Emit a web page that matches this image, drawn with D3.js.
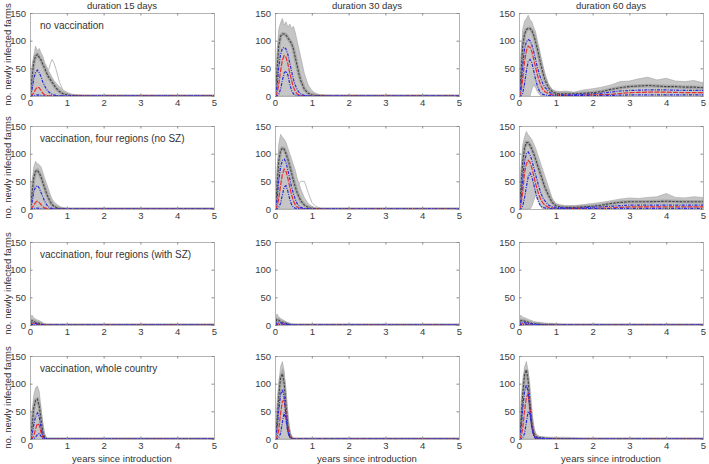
<!DOCTYPE html>
<html>
<head>
<meta charset="utf-8">
<script src="https://cdn.jsdelivr.net/npm/d3@7"></script>
<style>
body { margin: 0; background: #fff; }
svg { display: block; font-family: "Liberation Sans", Arial, sans-serif; }
</style>
</head>
<body>
<svg id="chart"></svg>
<script>
// time grid, years since introduction
const years = [0,0.05,0.1,0.15,0.2,0.25,0.3,0.35,0.4,0.45,0.5,0.55,0.6,0.65,0.7,
  0.8,0.9,1.0,1.1,1.25,1.5,1.75,2,2.25,2.5,2.75,3,3.25,3.5,3.75,4,4.25,4.5,4.75,5];

const durations = ['duration 15 days', 'duration 30 days', 'duration 60 days'];
const scenarios = ['no vaccination', 'vaccination, four regions (no SZ)',
  'vaccination, four regions (with SZ)', 'vaccination, whole country'];
const xTicks = [0, 1, 2, 3, 4, 5];
const yTicks = [0, 50, 100, 150];

// panels ordered row by row: scenario x duration
// upper edge of the grey band of simulation runs
const bandHi = [
  [0,45,72,90,82,86,78,72,60,54,46,40,34,28,24, 17,11,7,4,2,0.5,0,0,0,0,0,0,0,0,0,0,0,0,0,0],
  [0,60,120,132,140,128,134,124,130,122,126,115,100,85,70, 40,20,10,5,2,0,0,0,0,0,0,0,0,0,0,0,0,0,0,0],
  [0,60,120,135,140,146,138,134,124,116,100,86,70,56,42, 22,12,9,8,9,7,11,13,16,20,26,27,31,34,29,32,27,26,28,24],
  [0,40,75,86,82,80,76,66,55,46,36,26,18,13,10, 5,2,0.5,0,0,0,0,0,0,0,0,0,0,0,0,0,0,0,0,0],
  [0,55,115,135,130,126,120,110,100,90,80,70,56,46,36, 20,10,5,2,0.5,0,0,0,0,0,0,0,0,0,0,0,0,0,0,0],
  [0,60,115,130,140,134,130,125,118,110,100,90,80,70,60, 40,20,10,8,6,6,8,10,12,15,18,20,19,21,22,28,21,20,22,21],
  [0,18,13,11,9,8,6,4,2,1,0.5,0,0,0,0, 0,0,0,0,0,0,0,0,0,0,0,0,0,0,0,0,0,0,0,0],
  [0,20,15,12,10,8,6,4,3,2,1,0.5,0,0,0, 0,0,0,0,0,0,0,0,0,0,0,0,0,0,0,0,0,0,0,0],
  [0,18,14,13,12,10,9,8,6,6,5,5,4,4,3, 3,3,2,1.5,1,0.5,0,0,0,0,0,0,0,0,0,0,0,0,0,0],
  [0,40,78,92,96,86,56,26,8,2,0,0,0,0,0, 0,0,0,0,0,0,0,0,0,0,0,0,0,0,0,0,0,0,0,0],
  [0,40,95,130,140,122,80,40,15,5,1,0,0,0,0, 0,0,0,0,0,0,0,0,0,0,0,0,0,0,0,0,0,0,0,0],
  [0,40,95,130,140,122,82,46,22,11,7,5,4,3.5,3, 3,2.5,2,2,1.5,1,0,0,0,0,0,0,0,0,0,0,0,0,0,0]
];

// lower edge of the band where it lifts off zero
const bandLo = {
  2: [0,0,0,0,0,0,0,12,20,15,8,3,0,0,0, 0,0,0,0,0,0,0,0,0,0,0,0,0,0,0,0,0,0,0,0],
  5: [0,0,0,0,0,0,0,5,15,25,20,10,3,0,0, 0,0,0,0,0,0,0,0,0,0,0,0,0,0,0,0,0,0,0,0]
};

// single runs lying outside the band
const outlierRuns = {
  0: [0,10,20,25,25,22,18,15,20,30,45,58,66,60,50, 25,10,3,0,0,0,0,0,0,0,0,0,0,0,0,0,0,0,0,0],
  4: [0,10,30,40,45,42,40,35,30,28,30,35,40,45,50, 50,30,12,5,1,0,0,0,0,0,0,0,0,0,0,0,0,0,0,0]
};

// upper percentile (dark dashed)
const upper = [
  [0,30,60,72,75,70,65,57,50,42,35,30,25,20,15, 8,4,2,1,0.5,0,0,0,0,0,0,0,0,0,0,0,0,0,0,0],
  [0,40,90,108,112,112,110,105,100,95,85,70,55,40,28, 12,5,2,1,0.5,0,0,0,0,0,0,0,0,0,0,0,0,0,0,0],
  [0,35,90,112,120,122,122,118,110,98,85,70,55,42,30, 15,8,5,4,4,4,5,6,8,12,15,17,18,19,18,17,17,16,16,15],
  [0,25,55,68,70,65,58,48,38,28,20,13,8,5,3, 1,0.5,0,0,0,0,0,0,0,0,0,0,0,0,0,0,0,0,0,0],
  [0,35,85,105,110,108,100,90,78,65,52,40,30,22,15, 7,3,1,0.5,0,0,0,0,0,0,0,0,0,0,0,0,0,0,0,0],
  [0,35,85,110,120,120,115,108,100,90,80,70,60,50,40, 25,12,6,4,3,3,4,5,7,10,12,13,13,13,13.5,14,13.5,13,13,13],
  [0,8,7,5,4,3,2,1,0.5,0,0,0,0,0,0, 0,0,0,0,0,0,0,0,0,0,0,0,0,0,0,0,0,0,0,0],
  [0,10,9,6,5,4,3,2,1,0.5,0,0,0,0,0, 0,0,0,0,0,0,0,0,0,0,0,0,0,0,0,0,0,0,0,0],
  [0,8,8,7,6,5,4,3,2.5,2,2,1.5,1.5,1,1, 0.5,0.5,0.5,0,0,0,0,0,0,0,0,0,0,0,0,0,0,0,0,0],
  [0,20,55,70,72,60,35,12,3,0.5,0,0,0,0,0, 0,0,0,0,0,0,0,0,0,0,0,0,0,0,0,0,0,0,0,0],
  [0,30,75,110,118,100,60,25,8,2,0.5,0,0,0,0, 0,0,0,0,0,0,0,0,0,0,0,0,0,0,0,0,0,0,0,0],
  [0,30,80,115,125,105,65,30,12,5,3,2.5,2,2,1.5, 1,1,1,1,1,0.5,0,0,0,0,0,0,0,0,0,0,0,0,0,0]
];

// upper quartile (blue)
const q75 = [
  [0,10,30,42,47,42,35,25,18,12,8,5,3,2,1, 0.5,0,0,0,0,0,0,0,0,0,0,0,0,0,0,0,0,0,0,0],
  [0,15,50,75,86,88,85,75,60,45,30,20,12,7,4, 1,0.5,0,0,0,0,0,0,0,0,0,0,0,0,0,0,0,0,0,0],
  [0,15,55,85,98,102,100,92,80,66,52,40,30,22,16, 8,4,3,2.5,2,2,3,4,5,7,9,10,10.5,11,11,11,10.5,10,10,10],
  [0,10,30,40,42,38,30,22,14,8,4,2,1,0.5,0, 0,0,0,0,0,0,0,0,0,0,0,0,0,0,0,0,0,0,0,0],
  [0,15,50,75,88,90,84,70,55,40,28,18,10,6,3, 1,0.5,0,0,0,0,0,0,0,0,0,0,0,0,0,0,0,0,0,0],
  [0,15,55,85,100,103,98,88,75,62,50,38,28,20,15, 7,4,3,2.5,2,2,2.5,3,4,5,6,7,7,7,7,7,7,7,7,7],
  [0,5,4,3,2,1.5,1,0.5,0,0,0,0,0,0,0, 0,0,0,0,0,0,0,0,0,0,0,0,0,0,0,0,0,0,0,0],
  [0,5,5,4,3,2,1.5,1,0.5,0,0,0,0,0,0, 0,0,0,0,0,0,0,0,0,0,0,0,0,0,0,0,0,0,0,0],
  [0,5,5,4,4,3,2,2,1.5,1,1,0.5,0.5,0,0, 0,0,0,0,0,0,0,0,0,0,0,0,0,0,0,0,0,0,0,0],
  [0,5,25,40,47,40,20,6,1,0,0,0,0,0,0, 0,0,0,0,0,0,0,0,0,0,0,0,0,0,0,0,0,0,0,0],
  [0,15,50,80,90,75,40,15,4,1,0,0,0,0,0, 0,0,0,0,0,0,0,0,0,0,0,0,0,0,0,0,0,0,0,0],
  [0,15,55,85,98,85,50,22,8,3,2,1.5,1,1,0.5, 0.5,0,0,0,0,0,0,0,0,0,0,0,0,0,0,0,0,0,0,0]
];

// median (red)
const median = [
  [0,2,5,12,16,15,10,5,2,1,0.5,0,0,0,0, 0,0,0,0,0,0,0,0,0,0,0,0,0,0,0,0,0,0,0,0],
  [0,4,20,45,65,73,70,58,42,28,16,9,4,2,1, 0.5,0,0,0,0,0,0,0,0,0,0,0,0,0,0,0,0,0,0,0],
  [0,5,30,62,82,90,88,80,66,52,38,27,18,12,8, 4,2,1.5,1,1,1,1.5,2,2.5,3,4.5,6,6.5,7,7,7,6.5,6,6,6],
  [0,2,6,12,14,12,8,4,2,1,0,0,0,0,0, 0,0,0,0,0,0,0,0,0,0,0,0,0,0,0,0,0,0,0,0],
  [0,4,18,42,62,72,68,55,40,26,15,8,4,2,1, 0.5,0,0,0,0,0,0,0,0,0,0,0,0,0,0,0,0,0,0,0],
  [0,5,30,65,82,88,84,74,60,46,34,24,16,11,7, 3,2,1,1,1,1,1,1,1.5,2,3,4,4,4,4,4,4,4,4,4],
  [0,2,2,1.5,1,0.5,0,0,0,0,0,0,0,0,0, 0,0,0,0,0,0,0,0,0,0,0,0,0,0,0,0,0,0,0,0],
  [0,2,2,2,1.5,1,0.5,0,0,0,0,0,0,0,0, 0,0,0,0,0,0,0,0,0,0,0,0,0,0,0,0,0,0,0,0],
  [0,2,2,2,1.5,1,1,0.5,0,0,0,0,0,0,0, 0,0,0,0,0,0,0,0,0,0,0,0,0,0,0,0,0,0,0,0],
  [0,1,5,18,28,25,12,3,0.5,0,0,0,0,0,0, 0,0,0,0,0,0,0,0,0,0,0,0,0,0,0,0,0,0,0,0],
  [0,3,15,45,68,70,45,20,5,1,0,0,0,0,0, 0,0,0,0,0,0,0,0,0,0,0,0,0,0,0,0,0,0,0,0],
  [0,3,18,50,75,82,55,25,8,2,1,0.5,0,0,0, 0,0,0,0,0,0,0,0,0,0,0,0,0,0,0,0,0,0,0,0]
];

// lower quartile (blue)
const q25 = [
  [0,0.5,1,1.5,2,1.5,1,0.5,0,0,0,0,0,0,0, 0,0,0,0,0,0,0,0,0,0,0,0,0,0,0,0,0,0,0,0],
  [0,0.5,3,12,28,42,45,38,22,10,4,2,1,0.5,0, 0,0,0,0,0,0,0,0,0,0,0,0,0,0,0,0,0,0,0,0],
  [0,0.5,5,22,45,62,66,60,45,30,18,10,5,3,2, 1,0.5,0.5,0.5,0.5,0.5,0.5,0.5,1,1,1.5,2,2,2,2,2,2,2,2,2],
  [0,0.5,1,1.5,1.5,1,0.5,0,0,0,0,0,0,0,0, 0,0,0,0,0,0,0,0,0,0,0,0,0,0,0,0,0,0,0,0],
  [0,0.5,3,10,25,40,42,32,18,8,3,1.5,1,0.5,0, 0,0,0,0,0,0,0,0,0,0,0,0,0,0,0,0,0,0,0,0],
  [0,0.5,5,20,40,58,65,58,45,30,18,10,5,3,2, 1,0.5,0.5,0.5,0.5,0.5,0.5,0.5,0.5,0.5,1,1,1,1,1,1,1,1,1,1],
  [0,0.5,0.5,0,0,0,0,0,0,0,0,0,0,0,0, 0,0,0,0,0,0,0,0,0,0,0,0,0,0,0,0,0,0,0,0],
  [0,0.5,0.5,0.5,0,0,0,0,0,0,0,0,0,0,0, 0,0,0,0,0,0,0,0,0,0,0,0,0,0,0,0,0,0,0,0],
  [0,0.5,0.5,0.5,0.5,0,0,0,0,0,0,0,0,0,0, 0,0,0,0,0,0,0,0,0,0,0,0,0,0,0,0,0,0,0,0],
  [0,0,0.5,3,8,10,5,1,0,0,0,0,0,0,0, 0,0,0,0,0,0,0,0,0,0,0,0,0,0,0,0,0,0,0,0],
  [0,0.5,2,10,30,48,35,12,3,0.5,0,0,0,0,0, 0,0,0,0,0,0,0,0,0,0,0,0,0,0,0,0,0,0,0,0],
  [0,0.5,2,10,30,50,45,20,5,1,0.5,0,0,0,0, 0,0,0,0,0,0,0,0,0,0,0,0,0,0,0,0,0,0,0,0]
];

class RunPanel {

    constructor( config, idx ) {
        this.config = {
            parent: config.parent,
            left: config.left,
            top: config.top,
            width: config.width || 184,
            height: config.height || 83
        }
        this.idx = idx;
        this.init();
    }

    init() {
        let self = this;

        self.chart = self.config.parent.append('g')
            .attr('transform', `translate(${self.config.left}, ${self.config.top})`);

        self.xscale = d3.scaleLinear()
            .domain([0, 5])
            .range([0, self.config.width]);

        self.yscale = d3.scaleLinear()
            .domain([0, 150])
            .range([self.config.height, 0]);

        self.clipId = 'clip' + self.idx;
        self.chart.append('clipPath')
            .attr('id', self.clipId)
            .append('rect')
            .attr('width', self.config.width)
            .attr('height', self.config.height);
    }

    pts( arr ) {
        return years.map((t, k) => [t, arr[k]]);
    }

    render() {
        let self = this;
        let i = self.idx;
        let lo = bandLo[i] || null;

        let plot = self.chart.append('g')
            .attr('clip-path', `url(#${self.clipId})`);

        let area = d3.area()
            .x(d => self.xscale(d[0]))
            .y0(d => self.yscale(d[2]))
            .y1(d => self.yscale(d[1]));

        let line = d3.line()
            .x(d => self.xscale(d[0]))
            .y(d => self.yscale(d[1]));

        // grey band of all runs
        plot.append('path')
            .datum(years.map((t, k) => [t, bandHi[i][k], lo ? lo[k] : 0]))
            .attr('d', area)
            .style('fill', '#c6c6c6')
            .style('stroke', '#a2a2a2')
            .style('stroke-width', 0.6);

        if (outlierRuns[i]) {
            plot.append('path')
                .datum(self.pts(outlierRuns[i]))
                .attr('d', line)
                .style('fill', 'none')
                .style('stroke', '#bdbdbd')
                .style('stroke-width', 1);
        }

        // darker cluster of runs around the upper percentile
        plot.append('path')
            .datum(self.pts(upper[i]))
            .attr('d', line)
            .style('fill', 'none')
            .style('stroke', '#8e8e8e')
            .style('stroke-width', 3.5)
            .style('opacity', 0.55);

        plot.append('path')
            .datum(self.pts(upper[i]))
            .attr('d', line)
            .style('fill', 'none')
            .style('stroke', '#454545')
            .style('stroke-width', 1.1)
            .style('stroke-dasharray', '2.5,1.2');

        plot.append('path')
            .datum(self.pts(median[i]))
            .attr('d', line)
            .style('fill', 'none')
            .style('stroke', '#e8302c')
            .style('stroke-width', 1.2)
            .style('stroke-dasharray', '5,1.2');

        [q75[i], q25[i]].forEach(q => {
            plot.append('path')
                .datum(self.pts(q))
                .attr('d', line)
                .style('fill', 'none')
                .style('stroke', '#2a2ad8')
                .style('stroke-width', 1.2)
                .style('stroke-dasharray', '3,1.2,1,1.2');
        });

        // axes, MATLAB style box with inward ticks
        let h = self.config.height, w = self.config.width;
        let fmt = d3.format('d');
        self.chart.append('g')
            .attr('transform', `translate(0, ${h})`)
            .call(d3.axisBottom(self.xscale).tickValues(xTicks).tickFormat(fmt).tickSize(-2.5).tickPadding(3));
        self.chart.append('g')
            .call(d3.axisTop(self.xscale).tickValues(xTicks).tickSize(-2.5).tickFormat(''));
        self.chart.append('g')
            .call(d3.axisLeft(self.yscale).tickValues(yTicks).tickFormat(fmt).tickSize(-2.5).tickPadding(4));
        self.chart.append('g')
            .attr('transform', `translate(${w}, 0)`)
            .call(d3.axisRight(self.yscale).tickValues(yTicks).tickSize(-2.5).tickFormat(''));

        self.chart.selectAll('.domain')
            .style('stroke', '#b4b4b4');
        self.chart.selectAll('.tick line')
            .style('stroke', '#8a8a8a');
        self.chart.selectAll('.tick text')
            .style('font-size', '9.5px')
            .style('fill', '#3a3a3a')
            .style('font-family', '"Liberation Sans", Arial, sans-serif');
    }
}

const svg = d3.select('#chart')
    .attr('width', 709)
    .attr('height', 464);

const colLeft = [30, 275, 519];
const rowTop = [13, 126, 242, 356];
const panelW = 184, panelH = 83;

rowTop.forEach((top, r) => {
    colLeft.forEach((left, c) => {
        let p = new RunPanel({ parent: svg, left: left, top: top, width: panelW, height: panelH }, r * 3 + c);
        p.render();
    });

    svg.append('text')
        .attr('transform', `translate(11, ${top + panelH / 2}) rotate(-90)`)
        .attr('text-anchor', 'middle')
        .style('font-size', '9.5px')
        .style('fill', '#333')
        .text('no. newly infected farms');

    svg.append('text')
        .attr('x', colLeft[0] + 10)
        .attr('y', top + 16)
        .style('font-size', '10px')
        .style('fill', '#333')
        .text(scenarios[r]);
});

durations.forEach((d, c) => {
    svg.append('text')
        .attr('x', colLeft[c] + panelW / 2)
        .attr('y', 9)
        .attr('text-anchor', 'middle')
        .style('font-size', '9.5px')
        .style('fill', '#333')
        .text(d);

    svg.append('text')
        .attr('x', colLeft[c] + panelW / 2)
        .attr('y', 462)
        .attr('text-anchor', 'middle')
        .style('font-size', '9.5px')
        .style('fill', '#333')
        .text('years since introduction');
});
</script>
</body>
</html>
